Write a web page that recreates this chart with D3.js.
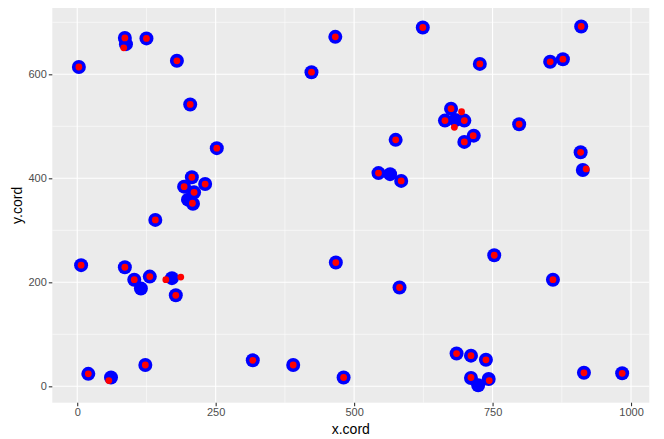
<!DOCTYPE html>
<html>
<head>
<meta charset="utf-8">
<script src="https://cdn.jsdelivr.net/npm/d3@7"></script>
<style>
  body { margin: 0; background: #fff; }
  text { font-family: "Liberation Sans", Arial, sans-serif; }
</style>
</head>
<body>
<div id="chart"></div>
<script>
// blue points (large)
var blueX = [3, 86, 88, 125, 180, 204, 252, 207, 193, 231, 211, 200, 209, 141, 423, 466, 624, 727, 854, 877,
  910, 675, 664, 683, 699, 716, 699, 798, 575, 544, 565, 585, 909, 913, 7, 86, 103, 115, 131, 171,
  178, 20, 61, 123, 317, 390, 467, 582, 753, 859, 481, 685, 711, 738, 711, 743, 724, 915, 984];
var blueY = [614, 670, 658, 669, 626, 542, 458, 402, 384, 389, 373, 359, 351, 320, 604, 672, 690, 620, 624, 629,
  692, 534, 511, 512, 511, 482, 470, 504, 474, 410, 408, 395, 450, 416, 233, 229, 205, 188, 211, 208,
  175, 24, 17, 41, 50, 41, 238, 190, 252, 205, 17, 63, 59, 51, 16, 14, 2, 26, 25];

// red points (small)
var redX = [3, 86, 84, 125, 180, 204, 252, 207, 193, 231, 211, 208, 141, 423, 466, 624, 727, 854, 877, 910,
  675, 694, 664, 681, 699, 715, 699, 798, 575, 544, 585, 909, 919, 7, 86, 103, 131, 160, 187, 178,
  20, 57, 123, 317, 390, 467, 582, 753, 859, 481, 685, 711, 738, 711, 744, 915, 984];
var redY = [614, 670, 651, 669, 626, 542, 458, 402, 384, 389, 373, 352, 320, 604, 672, 690, 620, 624, 629, 692,
  534, 528, 511, 498, 511, 482, 470, 504, 474, 410, 395, 450, 418, 233, 229, 205, 211, 205, 210, 175,
  24, 11, 41, 50, 41, 238, 190, 252, 205, 17, 63, 59, 51, 17, 11, 26, 25];

var xTicks = [0, 250, 500, 750, 1000];
var xMinor = [125, 375, 625, 875];
var yTicks = [0, 200, 400, 600];
var yMinor = [100, 300, 500, 700];

function init() {
  var w = 664;
  var h = 439;
  var margin = { top: 8, right: 14.7, bottom: 36.3, left: 52.3 };

  var svg = d3
    .select("#chart")
    .append("svg")
    .attr("width", w)
    .attr("height", h);

  var xScale = d3
    .scaleLinear()
    .domain([-45, 1033])
    .range([margin.left, w - margin.right]);

  var yScale = d3
    .scaleLinear()
    .domain([-31.5, 727.5])
    .range([h - margin.bottom, margin.top]);

  //panel background
  svg
    .append("rect")
    .attr("x", margin.left)
    .attr("y", margin.top)
    .attr("width", w - margin.left - margin.right)
    .attr("height", h - margin.top - margin.bottom)
    .style("fill", "#EBEBEB");

  var grid = svg.append("g");

  //minor grid lines
  grid
    .selectAll(".xminor")
    .data(xMinor)
    .enter()
    .append("line")
    .attr("x1", function (d) { return xScale(d); })
    .attr("x2", function (d) { return xScale(d); })
    .attr("y1", margin.top)
    .attr("y2", h - margin.bottom)
    .style("stroke", "#fff")
    .style("stroke-width", 0.55);

  grid
    .selectAll(".yminor")
    .data(yMinor)
    .enter()
    .append("line")
    .attr("y1", function (d) { return yScale(d); })
    .attr("y2", function (d) { return yScale(d); })
    .attr("x1", margin.left)
    .attr("x2", w - margin.right)
    .style("stroke", "#fff")
    .style("stroke-width", 0.55);

  //major grid lines
  grid
    .selectAll(".xmajor")
    .data(xTicks)
    .enter()
    .append("line")
    .attr("x1", function (d) { return xScale(d); })
    .attr("x2", function (d) { return xScale(d); })
    .attr("y1", margin.top)
    .attr("y2", h - margin.bottom)
    .style("stroke", "#fff")
    .style("stroke-width", 1.1);

  grid
    .selectAll(".ymajor")
    .data(yTicks)
    .enter()
    .append("line")
    .attr("y1", function (d) { return yScale(d); })
    .attr("y2", function (d) { return yScale(d); })
    .attr("x1", margin.left)
    .attr("x2", w - margin.right)
    .style("stroke", "#fff")
    .style("stroke-width", 1.1);

  //axes
  var xAxis = d3.axisBottom(xScale).tickValues(xTicks).tickFormat(d3.format("d")).tickSize(3.5).tickPadding(2);
  var yAxis = d3.axisLeft(yScale).tickValues(yTicks).tickFormat(d3.format("d")).tickSize(3.5).tickPadding(2);

  var gx = svg
    .append("g")
    .attr("transform", "translate(0," + (h - margin.bottom) + ")")
    .call(xAxis);
  var gy = svg
    .append("g")
    .attr("transform", "translate(" + margin.left + ",0)")
    .call(yAxis);

  [gx, gy].forEach(function (g) {
    g.select(".domain").remove();
    g.selectAll(".tick line").style("stroke", "#333333").style("stroke-width", 1.1);
    g.selectAll(".tick text")
      .style("fill", "#4D4D4D")
      .style("font-size", "11px")
      .style("font-family", "'Liberation Sans', Arial, sans-serif");
  });

  //blue points
  svg
    .selectAll(".blue")
    .data(blueX)
    .enter()
    .append("circle")
    .attr("cx", function (d) { return xScale(d); })
    .attr("cy", function (d, i) { return yScale(blueY[i]); })
    .attr("r", 7)
    .style("fill", "#0000FF");

  //red points
  svg
    .selectAll(".red")
    .data(redX)
    .enter()
    .append("circle")
    .attr("cx", function (d) { return xScale(d); })
    .attr("cy", function (d, i) { return yScale(redY[i]); })
    .attr("r", 3.4)
    .style("fill", "#FF0000");

  //axis titles
  svg
    .append("text")
    .attr("x", (margin.left + w - margin.right) / 2)
    .attr("y", h - 5)
    .attr("text-anchor", "middle")
    .style("font-size", "14px")
    .style("fill", "#000")
    .text("x.cord");

  svg
    .append("text")
    .attr("transform", "rotate(-90)")
    .attr("x", -(margin.top + h - margin.bottom) / 2)
    .attr("y", 22)
    .attr("text-anchor", "middle")
    .style("font-size", "14px")
    .style("fill", "#000")
    .text("y.cord");
}

window.onload = init;
</script>
</body>
</html>
